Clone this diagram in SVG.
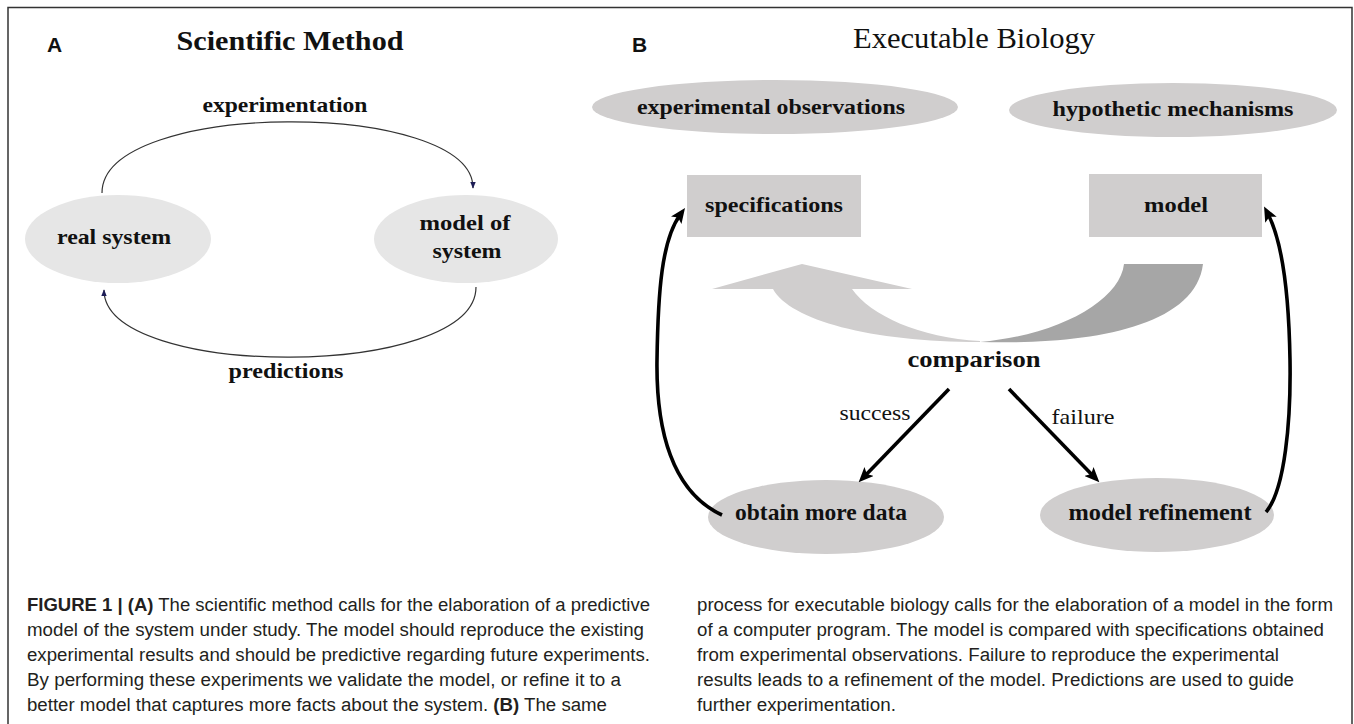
<svg xmlns="http://www.w3.org/2000/svg" width="1354" height="724" viewBox="0 0 1354 724">
<style>
.serif{font-family:"Liberation Serif","Times New Roman",serif;fill:#111;}
.b{font-weight:bold;}
.lbl{font-family:"Liberation Sans",Arial,sans-serif;font-weight:bold;font-size:21px;fill:#111;}
.cap{font-family:"Liberation Sans",Arial,sans-serif;font-size:18px;fill:#231f20;}
.nodeA{fill:#e6e6e6;}
.nodeB{fill:#d0cece;}
.thin{fill:none;stroke:#333;stroke-width:1.2;}
.thick{fill:none;stroke:#000;stroke-width:3.6;}
</style>
<defs>
<marker id="ha" viewBox="0 0 10 10" refX="9" refY="5" markerWidth="7" markerHeight="7" orient="auto" markerUnits="userSpaceOnUse">
<path d="M0,1 L10,5 L0,9 Z" fill="#1c1c55"/>
</marker>
<marker id="hb" viewBox="0 0 14 12" refX="6" refY="6" markerWidth="15" markerHeight="13" orient="auto" markerUnits="userSpaceOnUse">
<path d="M0,0 L14,6 L0,12 L3,6 Z" fill="#000"/>
</marker>
</defs>
<rect width="1354" height="724" fill="#fff"/>
<path d="M8,724 V7.5 H1352 V724" fill="none" stroke="#333" stroke-width="1.5"/>

<g id="panelA-labels">
<text class="lbl" x="47" y="52">A</text>
<text class="serif b" x="290" y="50" font-size="28" text-anchor="middle" textLength="227" lengthAdjust="spacingAndGlyphs">Scientific Method</text>
</g>

<g id="node-real-system">
<ellipse class="nodeA" cx="118" cy="239" rx="93" ry="44"/>
<text class="serif b" x="114" y="244" font-size="22" text-anchor="middle" textLength="114" lengthAdjust="spacingAndGlyphs">real system</text>
</g>
<g id="node-model-of-system">
<ellipse class="nodeA" cx="466" cy="239" rx="92" ry="44"/>
<text class="serif b" x="465" y="230" font-size="22" text-anchor="middle" textLength="91" lengthAdjust="spacingAndGlyphs">model of</text>
<text class="serif b" x="467" y="258" font-size="22" text-anchor="middle" textLength="69" lengthAdjust="spacingAndGlyphs">system</text>
</g>

<g id="panelB-labels">
<text class="lbl" x="632" y="52">B</text>
<text class="serif" x="974" y="48" font-size="30" text-anchor="middle" textLength="242" lengthAdjust="spacingAndGlyphs">Executable Biology</text>
</g>

<g id="node-experimental-observations">
<ellipse class="nodeB" cx="775" cy="107" rx="183" ry="27"/>
<text class="serif b" x="771" y="114" font-size="22" text-anchor="middle" textLength="268" lengthAdjust="spacingAndGlyphs">experimental observations</text>
</g>
<g id="node-hypothetic-mechanisms">
<ellipse class="nodeB" cx="1173" cy="110" rx="164" ry="27"/>
<text class="serif b" x="1173" y="116" font-size="22" text-anchor="middle" textLength="241" lengthAdjust="spacingAndGlyphs">hypothetic mechanisms</text>
</g>
<g id="node-specifications">
<rect class="nodeB" x="687" y="175" width="174" height="62"/>
<text class="serif b" x="774" y="212" font-size="22" text-anchor="middle" textLength="138" lengthAdjust="spacingAndGlyphs">specifications</text>
</g>
<g id="node-model">
<rect class="nodeB" x="1089" y="174" width="173" height="63"/>
<text class="serif b" x="1176" y="212" font-size="22" text-anchor="middle" textLength="64" lengthAdjust="spacingAndGlyphs">model</text>
</g>
<g id="node-comparison">
<path d="M1203,264 C1195,330 1080,345 980,342 C1060,335 1120,300 1124,264 Z" fill="#a6a6a6"/>
<path d="M712,289 L802,264 L912,289 L852,289 C870,315 920,338 980,341 L980,342 C870,342 790,320 773,289 Z" fill="#d0cece"/>
<text class="serif b" x="974" y="367" font-size="24" text-anchor="middle" textLength="133" lengthAdjust="spacingAndGlyphs">comparison</text>
</g>
<g id="node-obtain-more-data">
<ellipse class="nodeB" cx="826" cy="517" rx="118" ry="37"/>
<text class="serif b" x="821" y="520" font-size="23" text-anchor="middle" textLength="172" lengthAdjust="spacingAndGlyphs">obtain more data</text>
</g>
<g id="node-model-refinement">
<ellipse class="nodeB" cx="1157" cy="515" rx="117" ry="37"/>
<text class="serif b" x="1160" y="520" font-size="23" text-anchor="middle" textLength="183" lengthAdjust="spacingAndGlyphs">model refinement</text>
</g>

<g id="connectors">
<path class="thin" d="M102,193 C102,99 473,99 473,188" marker-end="url(#ha)"/>
<path class="thin" d="M476,287 C476,380 104,380 104,290" marker-end="url(#ha)"/>
<text class="serif b" x="285" y="112" font-size="21" text-anchor="middle" textLength="165" lengthAdjust="spacingAndGlyphs">experimentation</text>
<text class="serif b" x="286" y="378" font-size="21" text-anchor="middle" textLength="115" lengthAdjust="spacingAndGlyphs">predictions</text>

<path class="thick" d="M949,389 L864.6,476.2" marker-end="url(#hb)"/>
<path class="thick" d="M1009,389 L1093.4,476.2" marker-end="url(#hb)"/>
<path class="thick" d="M722,515 C672,492 656,430 657,360 C658,290 662,240 680,215" marker-end="url(#hb)"/>
<path class="thick" d="M1266,512 C1285,490 1291,420 1290,360 C1289,300 1284,245 1268,214" marker-end="url(#hb)"/>
<text class="serif" x="875" y="420" font-size="22" text-anchor="middle" textLength="71" lengthAdjust="spacingAndGlyphs">success</text>
<text class="serif" x="1083" y="424" font-size="22" text-anchor="middle" textLength="63" lengthAdjust="spacingAndGlyphs">failure</text>
</g>

<g id="caption">
<text class="cap" x="27" y="611" textLength="623" lengthAdjust="spacingAndGlyphs"><tspan font-weight="bold">FIGURE 1 | (A)</tspan> The scientific method calls for the elaboration of a predictive</text>
<text class="cap" x="27" y="636" textLength="617" lengthAdjust="spacingAndGlyphs">model of the system under study. The model should reproduce the existing</text>
<text class="cap" x="27" y="661" textLength="623" lengthAdjust="spacingAndGlyphs">experimental results and should be predictive regarding future experiments.</text>
<text class="cap" x="27" y="686" textLength="594" lengthAdjust="spacingAndGlyphs">By performing these experiments we validate the model, or refine it to a</text>
<text class="cap" x="27" y="711" textLength="580" lengthAdjust="spacingAndGlyphs">better model that captures more facts about the system. <tspan font-weight="bold">(B)</tspan> The same</text>
<text class="cap" x="697" y="611" textLength="636" lengthAdjust="spacingAndGlyphs">process for executable biology calls for the elaboration of a model in the form</text>
<text class="cap" x="697" y="636" textLength="627" lengthAdjust="spacingAndGlyphs">of a computer program. The model is compared with specifications obtained</text>
<text class="cap" x="697" y="661" textLength="582" lengthAdjust="spacingAndGlyphs">from experimental observations. Failure to reproduce the experimental</text>
<text class="cap" x="697" y="686" textLength="597" lengthAdjust="spacingAndGlyphs">results leads to a refinement of the model. Predictions are used to guide</text>
<text class="cap" x="697" y="711" textLength="199" lengthAdjust="spacingAndGlyphs">further experimentation.</text>
</g>
</svg>
